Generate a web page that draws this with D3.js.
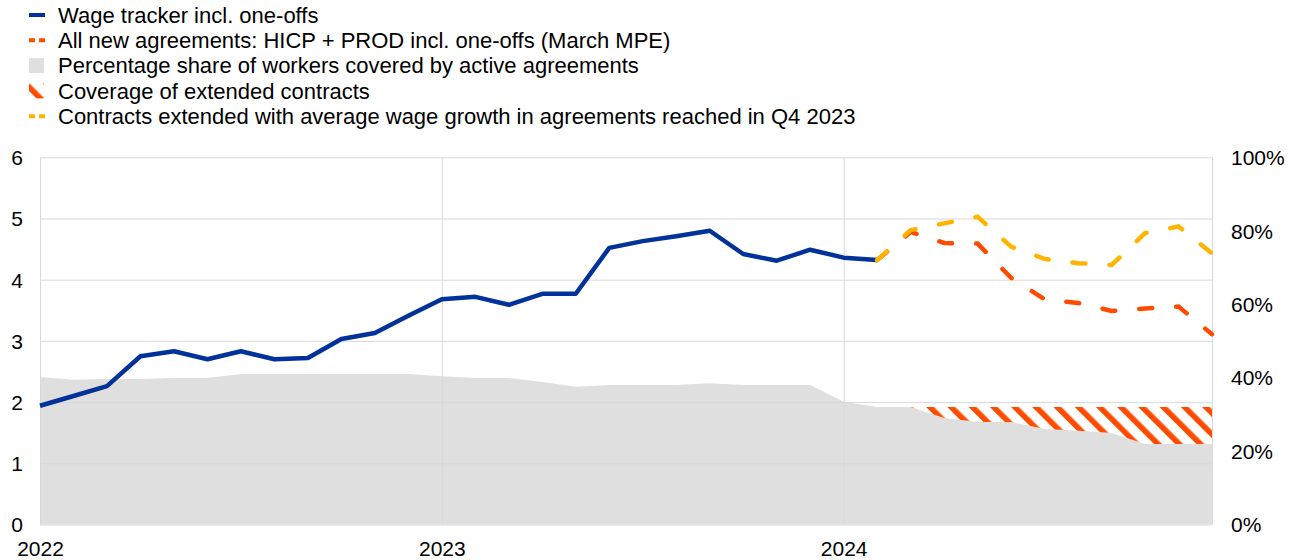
<!DOCTYPE html>
<html>
<head>
<meta charset="utf-8">
<script src="https://cdn.jsdelivr.net/npm/d3@7"></script>
<style>
  body { margin: 0; background: #fff; }
  text { font-family: "Liberation Sans", Arial, sans-serif; fill: #000; }
</style>
</head>
<body>
<svg id="chart" width="1291" height="560"></svg>
<script>
// monthly categories Jan 2022 - Dec 2024
const years = ['2022', '2023', '2024'];
const months = years.flatMap(y => d3.range(1, 13).map(m => `${y}-${String(m).padStart(2, '0')}`));

// wage tracker incl. one-offs (Jan 2022 - Feb 2024)
const wageTracker = [1.94, 2.10, 2.26, 2.75, 2.83, 2.70, 2.83, 2.70, 2.72, 3.03, 3.13, 3.41,
  3.68, 3.72, 3.59, 3.77, 3.77, 4.52, 4.63, 4.71, 4.80, 4.42, 4.31, 4.49,
  4.36, 4.32];

// projections Feb 2024 - Dec 2024
const projMonths = months.slice(25);
const newAgreements = [4.32, 4.78, 4.60, 4.59, 4.03, 3.68, 3.62, 3.49, 3.53, 3.56, 3.11];
const extendedContracts = [4.32, 4.81, 4.92, 5.03, 4.54, 4.34, 4.27, 4.24, 4.76, 4.87, 4.43];

// share of workers covered by active agreements (%)
const activeCoverage = [40.2, 39.4, 39.6, 39.6, 39.9, 39.9, 41.0, 41.0, 41.0, 41.0, 41.0, 41.0,
  40.4, 39.9, 39.9, 38.8, 37.5, 38.0, 38.0, 38.0, 38.5, 38.0, 38.0, 38.0,
  33.4, 32.0, 32.0, 29.0, 27.9, 27.9, 26.0, 25.5, 24.9, 21.9, 21.9, 21.9];
// upper edge of coverage incl. extended contracts (%), Feb 2024 - Dec 2024
const extendedCoverageTop = [32.0, 32.0, 32.0, 32.0, 32.0, 32.0, 32.0, 32.0, 32.0, 32.0, 32.0];

const leftTicks = [0, 1, 2, 3, 4, 5, 6];
const rightTicks = [0, 20, 40, 60, 80, 100];

const legendLabels = [
  'Wage tracker incl. one-offs',
  'All new agreements: HICP + PROD incl. one-offs (March MPE)',
  'Percentage share of workers covered by active agreements',
  'Coverage of extended contracts',
  'Contracts extended with average wage growth in agreements reached in Q4 2023'
];

const blue = '#003299', orange = '#ff4b00', yellow = '#ffb400', grey = '#dfdfdf', grid = '#d9d9d9';

const svg = d3.select('#chart');
const margin = { top: 157.3, right: 79, bottom: 35.5, left: 40 };
const width = +svg.attr('width');
const height = +svg.attr('height');
const innerWidth = width - margin.left - margin.right;
const innerHeight = height - margin.top - margin.bottom;

const x = d3.scalePoint().domain(months).range([0, innerWidth]);
const y = d3.scaleLinear().domain([0, 6]).range([innerHeight, 0]);
const yR = d3.scaleLinear().domain([0, 100]).range([innerHeight, 0]);

const defs = svg.append('defs');
defs.append('pattern')
    .attr('id', 'hatch')
    .attr('patternUnits', 'userSpaceOnUse')
    .attr('width', 15)
    .attr('height', 15)
    .attr('patternTransform', 'rotate(-45)')
  .append('rect')
    .attr('width', 5.6)
    .attr('height', 15)
    .attr('fill', orange);

const g = svg.append('g')
  .attr('transform', `translate(${margin.left},${margin.top})`);

// grey coverage area
g.append('path')
  .datum(activeCoverage)
  .attr('fill', grey)
  .attr('d', d3.area()
    .x((d, i) => x(months[i]))
    .y0(innerHeight)
    .y1(d => yR(d)));

// hatched extended coverage
g.append('path')
  .datum(extendedCoverageTop)
  .attr('fill', 'url(#hatch)')
  .attr('d', d3.area()
    .x((d, i) => x(projMonths[i]))
    .y0((d, i) => yR(activeCoverage[i + 25]))
    .y1(d => yR(d)));

// left axis with horizontal grid
const yAxisG = g.append('g').call(d3.axisLeft(y)
  .tickValues(leftTicks)
  .tickFormat(d3.format('d'))
  .tickSize(-innerWidth)
  .tickPadding(17));
yAxisG.select('.domain').remove();
yAxisG.selectAll('line').attr('stroke', grid);
yAxisG.selectAll('text').attr('font-size', 21).attr('dy', '0.35em');

// vertical year grid and year labels
const xAxisG = g.append('g')
  .attr('transform', `translate(0,${innerHeight})`)
  .call(d3.axisBottom(x)
    .tickValues(['2022-01', '2023-01', '2024-01', '2024-12'])
    .tickFormat(d => d.endsWith('-01') ? d.slice(0, 4) : '')
    .tickSize(-innerHeight)
    .tickPadding(17));
xAxisG.select('.domain').remove();
xAxisG.selectAll('line').attr('stroke', grid);
xAxisG.selectAll('text').attr('font-size', 21);

// right axis labels
const yRAxisG = g.append('g')
  .attr('transform', `translate(${innerWidth},0)`)
  .call(d3.axisRight(yR)
    .tickValues(rightTicks)
    .tickFormat(d => d + '%')
    .tickSize(0)
    .tickPadding(19));
yRAxisG.select('.domain').remove();
yRAxisG.selectAll('text').attr('font-size', 21).attr('dy', '0.35em');

// lines
const line = (arr) => d3.line().x((d, i) => x(arr[i])).y(d => y(d));

g.append('path')
  .datum(wageTracker)
  .attr('fill', 'none')
  .attr('stroke', blue)
  .attr('stroke-width', 4.5)
  .attr('stroke-linejoin', 'round')
  .attr('d', line(months));

g.append('path')
  .datum(newAgreements)
  .attr('fill', 'none')
  .attr('stroke', orange)
  .attr('stroke-width', 4.5)
  .attr('stroke-linecap', 'round')
  .attr('stroke-dasharray', '13 24')
  .attr('d', line(projMonths));

g.append('path')
  .datum(extendedContracts)
  .attr('fill', 'none')
  .attr('stroke', yellow)
  .attr('stroke-width', 4.5)
  .attr('stroke-linecap', 'round')
  .attr('stroke-dasharray', '13 24')
  .attr('d', line(projMonths));

// legend
const legend = svg.append('g').attr('transform', 'translate(29,0)');
const rowY = i => 15 + i * 25.3;

legendLabels.forEach((label, i) => {
  const row = legend.append('g').attr('transform', `translate(0,${rowY(i)})`);
  if (i === 0) {
    row.append('rect').attr('x', 0).attr('y', -2).attr('width', 16).attr('height', 4).attr('fill', blue);
  } else if (i === 1 || i === 4) {
    row.append('line').attr('x1', 0).attr('x2', 16).attr('y1', 0).attr('y2', 0)
      .attr('stroke', i === 1 ? orange : yellow)
      .attr('stroke-width', 4)
      .attr('stroke-dasharray', '6 4');
  } else if (i === 2) {
    row.append('rect').attr('x', 0).attr('y', -7.5).attr('width', 15).attr('height', 15).attr('fill', grey);
  } else {
    row.append('rect').attr('x', 0).attr('y', -7.5).attr('width', 15).attr('height', 15).attr('fill', 'url(#hatch)');
  }
  row.append('text')
    .attr('x', 29)
    .attr('dy', '0.35em')
    .attr('font-size', 22)
    .text(label);
});
</script>
</body>
</html>
